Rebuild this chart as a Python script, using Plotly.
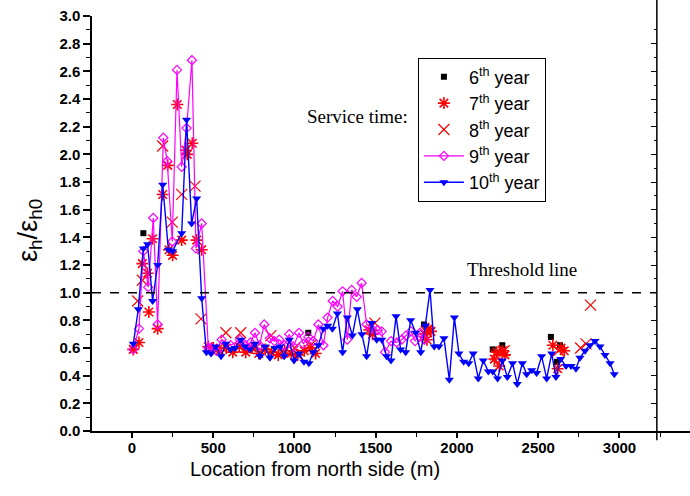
import plotly.graph_objects as go

# ---- data: strain ratio along the tunnel, by service year ----
y6_x = [70, 1085, 1797, 2220, 2279, 2578, 2615, 2634]
y6_v = [1.43, 0.71, 0.77, 0.59, 0.62, 0.68, 0.50, 0.62]

y7_x = [8, 43, 64, 96, 104, 127, 158, 189, 220, 228, 250, 279, 306, 332, 340, 371, 398, 429, 470,
        500, 540, 580, 620, 660, 700, 740, 780, 820, 860, 900, 940, 980, 1020, 1060, 1100, 1130,
        1460, 1480, 1800, 1815, 1825, 1840,
        2230, 2245, 2260, 2280, 2295, 2590, 2620, 2640, 2660]
y7_v = [0.59, 0.64, 1.21, 1.14, 0.86, 1.39, 0.74, 1.71, 1.92, 1.31, 1.27, 2.36, 1.38, 2.03, 2.00, 2.08, 1.38, 1.31, 0.61,
        0.60, 0.58, 0.60, 0.57, 0.61, 0.57, 0.60, 0.56, 0.59, 0.57, 0.55, 0.58, 0.56, 0.55, 0.58, 0.60, 0.56,
        0.73, 0.70, 0.70, 0.66, 0.74, 0.72,
        0.52, 0.57, 0.47, 0.58, 0.55, 0.62, 0.45, 0.60, 0.58]

y8_x = [35, 64, 189, 248, 306, 388, 425, 520, 578, 669, 760, 855, 1000, 1100, 1495, 1810,
        2240, 2290, 2625, 2761, 2794, 2822]
y8_v = [0.94, 1.09, 2.06, 1.51, 1.71, 1.77, 0.81, 0.58, 0.71, 0.71, 0.60, 0.69, 0.60, 0.62, 0.78, 0.72,
        0.55, 0.58, 0.58, 0.60, 0.63, 0.91]

y9_x = [8, 43, 70, 100, 131, 158, 193, 217, 248, 277, 306, 336, 369, 394, 429, 470, 490, 520, 552,
        607, 665, 700, 730, 757, 785, 814, 849, 876, 907, 937, 968, 993, 1028, 1054, 1085, 1116,
        1147, 1178, 1204, 1235, 1266, 1296, 1325, 1352, 1383, 1413, 1444, 1475, 1512, 1537, 1557,
        1594, 1629, 1660, 1686, 1717, 1742, 1772, 1800]
y9_v = [0.59, 0.74, 1.30, 1.04, 1.54, 0.77, 2.12, 1.95, 1.37, 2.61, 1.91, 2.19, 2.68, 1.32, 1.50, 0.60, 0.60, 0.58, 0.66,
        0.62, 0.66, 0.62, 0.64, 0.71, 0.62, 0.77, 0.67, 0.65, 0.66, 0.62, 0.70, 0.61, 0.71, 0.63, 0.68, 0.65,
        0.77, 0.62, 0.82, 0.94, 0.90, 1.01, 0.66, 1.02, 0.97, 1.07, 0.77, 0.74, 0.73, 0.72, 0.57,
        0.65, 0.64, 0.66, 0.69, 0.72, 0.65, 0.71, 0.66]

y10_x = [8, 39, 70, 96, 127, 158, 189, 224, 250, 306, 336, 367, 398, 429, 458, 486, 515, 548, 577,
         607, 634, 669, 695, 726, 757, 788, 818, 849, 880, 911, 937, 968, 997, 1028, 1058, 1089, 1116,
         1147, 1178, 1204, 1233, 1264, 1296, 1325, 1356, 1387, 1415, 1444, 1475, 1506, 1537, 1567,
         1594, 1625, 1653, 1684, 1715, 1746, 1777, 1805, 1834, 1860, 1889, 1920, 1953, 1984, 2012,
         2041, 2072, 2100, 2131, 2162, 2193, 2220, 2250, 2279, 2310, 2342, 2371, 2402, 2429, 2460,
         2490, 2521, 2552, 2583, 2609, 2638, 2671, 2702, 2732, 2757, 2788, 2818, 2849, 2880, 2911,
         2942, 2968]
y10_v = [0.63, 0.88, 1.32, 1.35, 0.94, 1.20, 1.78, 1.31, 1.30, 1.43, 2.25, 1.50, 1.68, 0.96, 0.57, 0.56, 0.61, 0.54, 0.63,
         0.59, 0.60, 0.66, 0.61, 0.59, 0.63, 0.54, 0.61, 0.53, 0.60, 0.61, 0.54, 0.66, 0.51, 0.56, 0.50, 0.49, 0.57,
         0.62, 0.74, 0.76, 0.74, 0.85, 0.57, 0.82, 0.69, 0.88, 0.70, 0.54, 0.78, 0.66, 0.66, 0.54,
         0.51, 0.83, 0.59, 0.57, 0.80, 0.71, 0.57, 0.76, 1.02, 0.61, 0.61, 0.67, 0.37, 0.82, 0.56,
         0.50, 0.49, 0.56, 0.38, 0.51, 0.43, 0.43, 0.38, 0.51, 0.39, 0.49, 0.34, 0.49, 0.41, 0.44,
         0.42, 0.54, 0.38, 0.56, 0.39, 0.52, 0.47, 0.47, 0.45, 0.53, 0.58, 0.62, 0.65, 0.61, 0.55,
         0.49, 0.41]

threshold = 1.0
x_range = [-246, 3434]
y_range = [0, 3.0]
frame_right = 3230

fig = go.Figure()

fig.add_trace(go.Scatter(
    x=y6_x, y=y6_v, mode="markers", name="6<sup>th</sup> year",
    marker=dict(symbol="square", size=6, color="black"), legendrank=1))
fig.add_trace(go.Scatter(
    x=y7_x, y=y7_v, mode="markers", name="7<sup>th</sup> year",
    marker=dict(symbol="asterisk-open", size=10, color="#ff0000", line=dict(width=1.6, color="#ff0000")),
    legendrank=2))
fig.add_trace(go.Scatter(
    x=y8_x, y=y8_v, mode="markers", name="8<sup>th</sup> year",
    marker=dict(symbol="x-thin-open", size=11, color="#ff0000", line=dict(width=1.2, color="#ff0000")),
    legendrank=3))
fig.add_trace(go.Scatter(
    x=y9_x, y=y9_v, mode="lines+markers", name="9<sup>th</sup> year",
    line=dict(color="#ff00ff", width=1.2),
    marker=dict(symbol="diamond-open", size=7, color="#ff00ff", line=dict(width=1.2, color="#ff00ff")),
    legendrank=4))
fig.add_trace(go.Scatter(
    x=y10_x, y=y10_v, mode="lines+markers", name="10<sup>th</sup> year",
    line=dict(color="#0000ff", width=1.4),
    marker=dict(symbol="triangle-down", size=8, color="#0000ff"),
    legendrank=5))
# empty trace that carries the right-hand frame axis
fig.add_trace(go.Scatter(x=[None], y=[None], yaxis="y2", showlegend=False, hoverinfo="skip"))

# threshold line
fig.add_shape(type="line", xref="x", yref="y", x0=x_range[0], x1=frame_right, y0=threshold, y1=threshold,
              line=dict(color="black", width=1.5, dash="dash"))
# right frame line, running past the top and crossing the bottom axis
px_right = (frame_right - x_range[0]) / (x_range[1] - x_range[0])
fig.add_shape(type="line", xref="paper", yref="paper", x0=px_right, x1=px_right, y0=-0.022, y1=1.04,
              line=dict(color="black", width=1.5))

fig.add_annotation(x=1385, y=2.27, xref="x", yref="y", text="Service time:", showarrow=False,
                   font=dict(family="Liberation Serif", size=19, color="black"))
fig.add_annotation(x=2400, y=1.165, xref="x", yref="y", text="Threshold line", showarrow=False,
                   font=dict(family="Liberation Serif", size=19, color="black"))
# axis titles
fig.add_annotation(x=0.373, y=-0.092, xref="paper", yref="paper", text="Location from north side (m)",
                   showarrow=False, xanchor="center", yanchor="middle",
                   font=dict(family="Liberation Sans", size=20, color="black"))
fig.add_annotation(x=-0.104, y=0.484, xref="paper", yref="paper", text="ε<sub>h</sub>/ε<sub>h0</sub>",
                   showarrow=False, textangle=-90, xanchor="center", yanchor="middle",
                   font=dict(family="Liberation Sans", size=27, color="black"))

fig.update_layout(
    width=690, height=496,
    margin=dict(l=92, r=0, t=16, b=65),
    paper_bgcolor="white", plot_bgcolor="white",
    font=dict(family="Liberation Sans", color="black"),
    showlegend=True,
    legend=dict(x=0.545, y=0.9, xanchor="left", yanchor="top",
                bordercolor="black", borderwidth=1, bgcolor="white",
                font=dict(family="Liberation Sans", size=18, color="black"),
                itemwidth=40, tracegroupgap=0),
    xaxis=dict(range=x_range, showgrid=False, zeroline=False,
               showline=True, linecolor="black", linewidth=1.5,
               ticks="outside", ticklen=5, tickwidth=1.5, tickcolor="black",
               tick0=0, dtick=500, ticklabelstandoff=-3,
               minor=dict(ticks="outside", ticklen=4, tickwidth=1.2, tickcolor="black", dtick=250),
               tickfont=dict(size=15, weight="bold")),
    yaxis=dict(range=y_range, showgrid=False, zeroline=False,
               showline=True, linecolor="black", linewidth=1.5,
               ticks="outside", ticklen=7, tickwidth=1.5, tickcolor="black",
               tick0=0, dtick=0.2, tickformat=".1f",
               minor=dict(ticks="outside", ticklen=4, tickwidth=1.2, tickcolor="black", dtick=0.1),
               tickfont=dict(size=15, weight="bold")),
    yaxis2=dict(range=y_range, overlaying="y", anchor="free", position=px_right, side="right",
                showgrid=False, zeroline=False, showline=False, showticklabels=False,
                ticks="inside", ticklen=6, tickwidth=1.2, tickcolor="black", tick0=0, dtick=0.2,
                minor=dict(ticks="inside", ticklen=3, tickwidth=1, tickcolor="black", dtick=0.1)),
)

fig.write_html("out.html")
